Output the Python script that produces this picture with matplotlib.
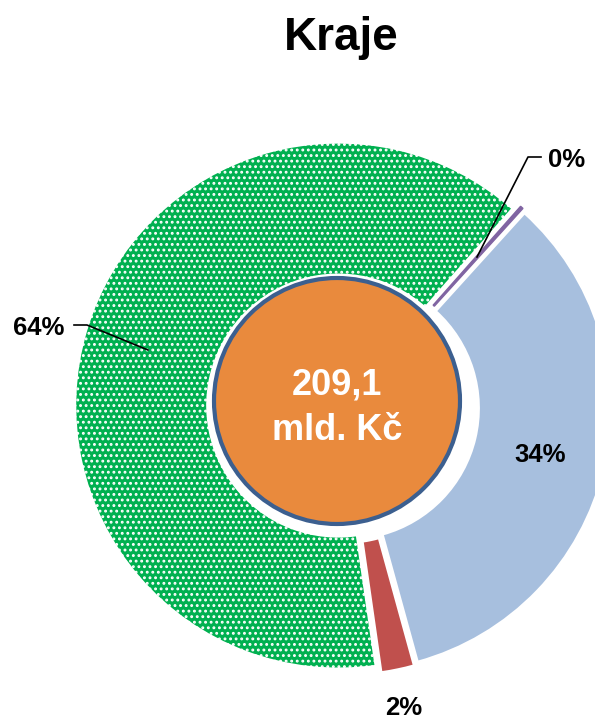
import matplotlib.pyplot as plt
from matplotlib.patches import Circle

plt.rcParams['font.family'] = ['Liberation Sans', 'DejaVu Sans']
plt.rcParams['hatch.linewidth'] = 1.3

# data (mld. Kč)
total_label = "209,1"
unit_label = "mld. Kč"
values = [0.4, 71.1, 4.2, 133.4]
colors = ['#8064A2', '#A7BFDE', '#C0504D', '#00B050']
hatches = ['', '', '', '...']
explode = [5, 5, 5, 5]

W, H = 595, 719


def py(y):  # pixel row -> data y
    return H - y


fig = plt.figure(figsize=(W / 100, H / 100), dpi=100)
ax = fig.add_axes([0, 0, 1, 1])

wedges, _ = ax.pie(values, colors=colors, explode=explode, radius=263,
                   center=(343, py(407)), startangle=48.5, counterclock=False,
                   wedgeprops=dict(width=132, edgecolor='white', linewidth=1.5))
for w, h in zip(wedges, hatches):
    w.set_hatch(h)
wedges[0].set_edgecolor(colors[0])
wedges[0].set_linewidth(1.0)

# pie() resets the limits, so set them afterwards
ax.set_xlim(0, W)
ax.set_ylim(0, H)
ax.set_aspect('equal')
ax.axis('off')

# centre circle
ax.add_patch(Circle((337, py(401)), 123, facecolor='#E98A3D',
                    edgecolor='#3C5F8F', linewidth=3, zorder=5))
ax.text(337, py(395), total_label, ha='center', va='baseline', color='white',
        fontsize=26, fontweight='bold', zorder=6)
ax.text(337, py(440), unit_label, ha='center', va='baseline', color='white',
        fontsize=26, fontweight='bold', zorder=6)

pct = [f"{round(v / sum(values) * 100)}%" for v in values]
lbl = dict(fontsize=18.5, fontweight='bold', color='black', va='baseline')

ax.text(567, py(167), pct[0], ha='center', **lbl)
ax.plot([477, 528, 541], [py(257), py(157), py(157)], color='black', lw=1.2)

ax.text(540, py(462), pct[1], ha='center', **lbl)

ax.text(404, py(715), pct[2], ha='center', **lbl)

ax.text(39, py(335), pct[3], ha='center', **lbl)
ax.plot([74, 87, 148], [py(325), py(325), py(350)], color='black', lw=1.2)

ax.text(341, py(50), "Kraje", ha='center', va='baseline', fontsize=33,
        fontweight='bold')

fig.savefig('out.png', dpi=100)
